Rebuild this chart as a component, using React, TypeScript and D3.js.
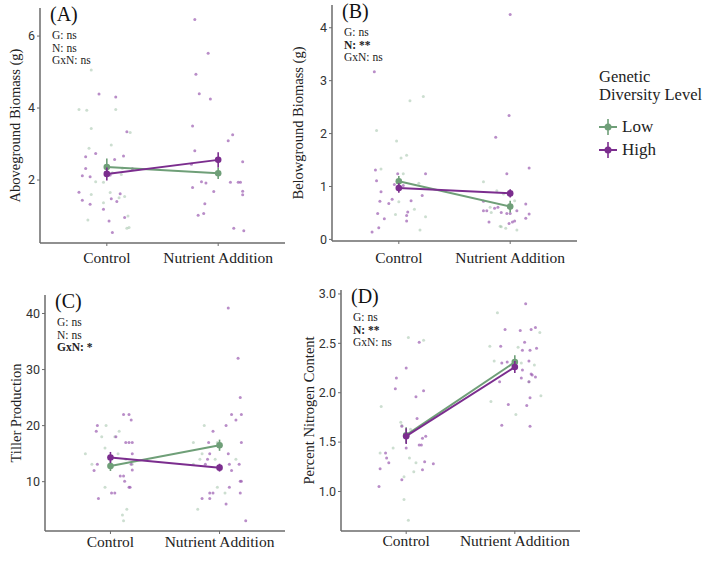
import React from 'react';
import * as d3 from 'd3';

const categories = ["Control", "Nutrient Addition"];
const groups = ["Low", "High"];
const groupColors = ["#6f9f78", "#7b2d8e"];
const pointColors = ["#8fb596", "#9b5cb0"];

// means / standard errors per group: [Control, Nutrient Addition]
const aMeans = [[2.36, 2.19], [2.17, 2.56]];
const aSE = [[0.24, 0.16], [0.18, 0.21]];
const bMeans = [[1.1, 0.62], [0.97, 0.87]];
const bSE = [[0.1, 0.11], [0.09, 0.08]];
const cMeans = [[12.8, 16.5], [14.3, 12.5]];
const cSE = [[0.9, 1.0], [1.0, 0.7]];
const dMeans = [[1.57, 2.31], [1.56, 2.26]];
const dSE = [[0.08, 0.07], [0.08, 0.06]];

// raw observations: [category position + jitter, value]
const aLow = [[0.75, 3.96], [0.82, 3.94], [0.86, 5.06], [1.08, 3.96], [1.04, 2.97], [1.14, 2.33], [0.9, 1.95], [0.97, 1.37], [1.11, 1.51], [1.16, 1.54], [0.83, 0.89], [1.2, 0.68],
  [1.05, 2.2], [1.13, 2.15], [0.86, 3.43], [1.21, 3.32], [0.84, 2.88], [0.97, 1.94], [1.03, 1.65], [0.86, 1.6], [1.19, 1.0], [1.18, 0.66]];
const aHigh = [[0.93, 4.39], [1.08, 4.31], [1.18, 3.34], [0.9, 2.74], [0.81, 2.65], [1.07, 2.57], [1.15, 2.67], [0.81, 2.32], [1.23, 2.31], [0.78, 2.12], [0.85, 2.09], [1.03, 2.14],
  [0.75, 1.66], [0.78, 1.44], [0.85, 1.33], [0.97, 1.19], [1.04, 1.48], [1.12, 1.62], [1.09, 1.4], [1.02, 0.86], [1.16, 0.96], [1.05, 0.54],
  [1.79, 6.46], [1.91, 5.52], [1.8, 4.94], [1.83, 4.4], [1.93, 4.25], [1.77, 3.5], [2.13, 3.26], [2.09, 3.09], [1.79, 2.81], [2.22, 2.51], [1.76, 2.44],
  [1.85, 1.95], [1.89, 1.92], [2.11, 1.94], [2.18, 1.94], [2.2, 1.94], [1.77, 1.79], [1.96, 1.68], [2.22, 1.69], [2.22, 1.59], [1.88, 1.34], [1.87, 1.07], [1.82, 1.02], [2.14, 0.66], [2.23, 0.59]];

const bLow = [[0.8, 2.06], [1.1, 2.62], [1.22, 2.7], [0.98, 1.86], [1.02, 1.54], [1.07, 1.59], [0.84, 1.33], [1.04, 1.24], [1.18, 1.06], [1.0, 0.71], [1.14, 0.57], [0.97, 0.47],
  [1.24, 0.43], [1.19, 0.18], [1.01, 1.07], [1.76, 1.09], [1.88, 0.92], [1.94, 0.86], [2.04, 0.73], [1.82, 0.61], [1.91, 0.25], [1.92, 0.24], [1.96, 0.21], [2.06, 0.18], [1.83, 0.51]];
const bHigh = [[0.78, 3.17], [0.79, 1.31], [0.8, 1.11], [0.99, 1.24], [1.24, 1.24], [0.96, 1.04], [1.04, 1.02], [1.21, 0.83], [0.84, 0.9], [0.83, 0.72], [0.91, 0.68], [0.94, 0.76],
  [1.11, 0.73], [0.81, 0.49], [0.87, 0.39], [1.08, 0.52], [1.07, 0.35], [1.07, 0.45], [0.82, 0.22], [0.76, 0.14],
  [2.0, 4.25], [1.99, 2.34], [1.87, 1.93], [2.17, 1.35], [1.97, 1.24], [2.14, 0.67], [1.76, 0.72], [1.76, 0.54], [1.79, 0.54], [1.86, 0.59], [1.89, 0.61], [1.92, 0.51],
  [1.97, 0.49], [2.0, 0.49], [2.14, 0.4], [2.17, 0.48], [2.04, 0.35], [2.02, 0.33], [1.99, 0.3], [1.81, 0.33], [2.06, 0.54]];

const cLow = [[0.77, 15.0], [0.96, 20.0], [0.92, 18.0], [1.04, 18.0], [1.08, 19.0], [0.95, 16.0], [1.07, 15.0], [0.83, 13.1], [1.14, 14.0], [1.2, 13.1], [0.95, 9.0], [1.15, 5.1],
  [1.12, 3.05], [1.11, 4.06], [1.86, 20.0], [1.76, 17.0], [1.98, 17.0], [1.84, 15.0], [1.82, 14.0], [1.96, 14.0], [1.76, 13.1], [1.98, 9.0], [2.05, 8.0], [1.8, 5.1], [2.15, 14.0]];
const cHigh = [[0.88, 20.0], [0.87, 19.0], [1.05, 18.0], [1.12, 22.0], [1.17, 22.0], [1.19, 21.0], [1.14, 17.0], [1.17, 17.0], [1.2, 17.0], [1.2, 15.0], [0.88, 13.1], [0.85, 12.0],
  [1.09, 11.0], [1.12, 11.0], [1.13, 10.06], [1.19, 13.1], [1.2, 12.1], [1.17, 9.0], [1.18, 9.0], [1.01, 8.0], [1.04, 8.0], [0.89, 7.0],
  [2.08, 41.0], [2.17, 32.0], [2.19, 25.0], [2.11, 22.0], [2.2, 22.0], [2.15, 21.0], [2.06, 20.0], [1.94, 19.0], [1.9, 17.0], [2.2, 17.0], [2.08, 15.0], [1.91, 15.0],
  [1.89, 14.0], [2.09, 13.1], [2.18, 13.1], [1.87, 13.1], [2.11, 12.0], [2.19, 10.06], [2.2, 10.06], [2.09, 9.0], [1.91, 8.0], [1.94, 8.0], [2.19, 8.0], [1.84, 7.0], [1.91, 7.0], [2.06, 6.0], [2.24, 3.05]];

const dLow = [[1.02, 2.56], [1.16, 2.53], [0.77, 1.86], [0.95, 1.7], [0.96, 1.67], [1.04, 1.63], [0.88, 1.44], [1.03, 1.34], [0.76, 1.39], [1.09, 1.29], [1.07, 1.2], [0.98, 1.15],
  [0.98, 0.92], [1.02, 0.71], [1.84, 2.81], [1.77, 2.47], [2.03, 2.46], [1.81, 2.32], [2.06, 2.3], [2.23, 2.61], [2.24, 1.97], [1.78, 1.91], [2.01, 1.78], [2.13, 2.11], [2.18, 2.28]];
const dHigh = [[1.12, 2.51], [1.0, 2.25], [0.91, 2.15], [0.9, 2.04], [1.16, 2.02], [1.09, 1.96], [1.1, 1.74], [0.96, 1.66], [1.12, 1.47], [1.14, 1.47], [1.15, 1.54], [1.18, 1.56],
  [0.81, 1.39], [0.82, 1.34], [0.84, 1.29], [1.17, 1.3], [1.25, 1.28], [1.15, 1.22], [0.76, 1.23], [0.75, 1.05], [0.96, 1.12], [1.0, 1.44],
  [2.1, 2.9], [1.91, 2.64], [2.05, 2.63], [2.15, 2.64], [2.19, 2.66], [2.09, 2.51], [1.87, 2.47], [2.14, 2.43], [2.07, 2.43], [2.2, 2.45], [1.88, 2.3], [1.93, 2.31],
  [2.13, 2.32], [2.07, 2.23], [2.15, 2.19], [2.16, 2.18], [2.19, 2.16], [2.06, 2.15], [2.13, 2.11], [1.86, 2.11], [2.14, 1.95], [1.94, 1.88], [2.11, 1.87], [1.88, 1.67], [2.14, 1.66]];

const aTicks = [2, 4, 6];
const bTicks = [0, 1, 2, 3, 4];
const cTicks = [10, 20, 30, 40];
const dTicks = [1.0, 1.5, 2.0, 2.5, 3.0];

const serif = "'Liberation Serif', 'Times New Roman', serif";
const sans = "Roboto, 'Liberation Sans', Arial, sans-serif";

type PanelProps = {
  tag: string; yTitle: string; stats: [string, boolean][];
  means: number[][]; se: number[][]; low: number[][]; high: number[][];
  ticks: number[]; fmt: (v: number) => string; domain: [number, number];
  x0: number; x1: number; yTop: number; yBot: number;
  yTitleX: number; xLabelY: number;
};

function Panel(p: PanelProps) {
  const x = d3.scaleLinear().domain([0.4, 2.6]).range([p.x0, p.x1]);
  const y = d3.scaleLinear().domain(p.domain).range([p.yBot, p.yTop]);
  const line = d3.line<number>().x((_, i) => x(i + 1)).y(v => y(v));
  const axisColor = "#6b6b6b";
  return (
    <g>
      {[p.low, p.high].map((pts, gi) => pts.map((d, i) => (
        <circle key={`${gi}-${i}`} cx={x(d[0])} cy={y(d[1])} r={1.5}
          fill={pointColors[gi]} fillOpacity={gi === 0 ? 0.45 : 0.7} />
      )))}
      <line x1={p.x0} x2={p.x1} y1={p.yBot} y2={p.yBot} stroke={axisColor} strokeWidth={1.5} />
      <line x1={p.x0} x2={p.x0} y1={p.yTop} y2={p.yBot} stroke={axisColor} strokeWidth={1.5} />
      {p.ticks.map(t => (
        <g key={t}>
          <line x1={p.x0 - 3} x2={p.x0} y1={y(t)} y2={y(t)} stroke={axisColor} strokeWidth={1} />
          <text x={p.x0 - 5} y={y(t)} dy="0.35em" textAnchor="end" fontFamily={sans} fontSize={12.5} fill="#333">{p.fmt(t)}</text>
        </g>
      ))}
      {categories.map((c, i) => (
        <g key={c}>
          <line x1={x(i + 1)} x2={x(i + 1)} y1={p.yBot} y2={p.yBot + 3} stroke={axisColor} strokeWidth={1} />
          <text x={x(i + 1)} y={p.xLabelY} textAnchor="middle" fontFamily={serif} fontSize={15.5} fill="#222">{c}</text>
        </g>
      ))}
      <text transform={`translate(${p.yTitleX},${(p.yTop + p.yBot) / 2}) rotate(-90)`} textAnchor="middle"
        fontFamily={serif} fontSize={14.5} fill="#222">{p.yTitle}</text>
      {p.means.map((m, gi) => (
        <g key={gi}>
          <path d={line(m) || ""} fill="none" stroke={groupColors[gi]} strokeWidth={2} />
          {m.map((v, i) => (
            <g key={i}>
              <line x1={x(i + 1)} x2={x(i + 1)} y1={y(v - p.se[gi][i])} y2={y(v + p.se[gi][i])} stroke={groupColors[gi]} strokeWidth={1.6} />
              <circle cx={x(i + 1)} cy={y(v)} r={3.3} fill={groupColors[gi]} />
            </g>
          ))}
        </g>
      ))}
      <text x={p.x0 + 10} y={p.yTop + 13} fontFamily={serif} fontSize={20} fill="#111">{p.tag}</text>
      {p.stats.map(([s, b], i) => (
        <text key={s} x={p.x0 + 12} y={p.yTop + 31 + i * 12.5} fontFamily={serif} fontSize={11.5}
          fontWeight={b ? "bold" : "normal"} fill="#222">{s}</text>
      ))}
    </g>
  );
}

export default function App() {
  return (
    <svg width={709} height={563} style={{ position: "absolute", left: 0, top: 0, background: "#fff" }}
      fontFamily={serif}>
      <Panel tag="(A)" yTitle="Aboveground Biomass (g)" stats={[["G: ns", false], ["N: ns", false], ["GxN: ns", false]]}
        means={aMeans} se={aSE} low={aLow} high={aHigh} ticks={aTicks} fmt={d3.format("d")}
        domain={[0.25, 6.78]} x0={40} x1={285} yTop={8} yBot={243} yTitleX={20} xLabelY={263} />
      <Panel tag="(B)" yTitle="Belowground Biomass (g)" stats={[["G: ns", false], ["N: **", true], ["GxN: ns", false]]}
        means={bMeans} se={bSE} low={bLow} high={bHigh} ticks={bTicks} fmt={d3.format("d")}
        domain={[-0.03, 4.43]} x0={332} x1={577} yTop={5} yBot={241} yTitleX={303} xLabelY={263} />
      <Panel tag="(C)" yTitle="Tiller Production" stats={[["G: ns", false], ["N: ns", false], ["GxN: *", true]]}
        means={cMeans} se={cSE} low={cLow} high={cHigh} ticks={cTicks} fmt={d3.format("d")}
        domain={[1.2, 43.3]} x0={45} x1={285} yTop={295} yBot={531} yTitleX={21} xLabelY={547} />
      <Panel tag="(D)" yTitle="Percent Nitrogen Content" stats={[["G: ns", false], ["N: **", true], ["GxN: ns", false]]}
        means={dMeans} se={dSE} low={dLow} high={dHigh} ticks={dTicks} fmt={d3.format(".1f")}
        domain={[0.6, 3.04]} x0={341} x1={580} yTop={290} yBot={531} yTitleX={314} xLabelY={546} />
      <g>
        <text x={599} y={82} fontSize={16.5} fill="#222">Genetic</text>
        <text x={599} y={100} fontSize={16.5} fill="#222">Diversity Level</text>
        {groups.map((g, i) => {
          const cy = 127 + i * 23;
          return (
            <g key={g}>
              <line x1={599} x2={617} y1={cy} y2={cy} stroke={groupColors[i]} strokeWidth={2} />
              <line x1={608} x2={608} y1={cy - 8} y2={cy + 8} stroke={groupColors[i]} strokeWidth={1.6} />
              <circle cx={608} cy={cy} r={3.5} fill={groupColors[i]} />
              <text x={622} y={cy + 5} fontSize={17} fill="#222">{g}</text>
            </g>
          );
        })}
      </g>
    </svg>
  );
}
